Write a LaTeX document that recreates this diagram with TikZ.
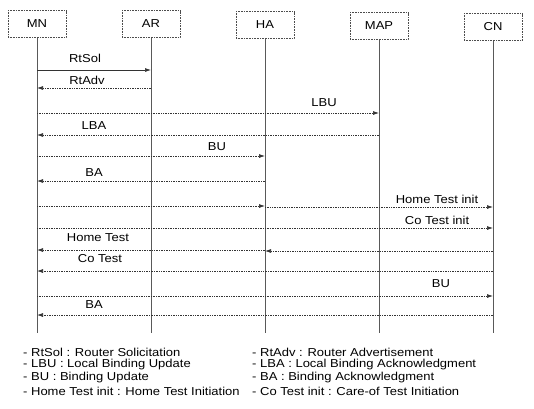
\documentclass[tikz,border=0pt]{standalone}
\usepackage{fontspec}
\setmainfont[FakeStretch=1.13]{Liberation Sans}
\usetikzlibrary{arrows.meta,positioning,calc}
\tikzset{
  sqhead/.style={rectangle, draw=black!70, densely dotted, line width=0.6pt,
                 minimum width=58pt, minimum height=27pt, inner sep=0pt,
                 font=\fontsize{11.5}{13}\selectfont},
  sqlife/.style={draw=black!65, line width=0.6pt},
  sqmsg/.style={-{Latex[length=6pt,width=4pt]}, draw=black!80, densely dotted, line width=0.7pt},
  sqmsgs/.style={sqmsg, solid},
  sqlbl/.style={font=\fontsize{11.5}{13}\selectfont, inner sep=0pt},
  sqleg/.style={font=\fontsize{11.5}{13}\selectfont, anchor=west, inner sep=0pt}
}

\begin{document}
\begin{tikzpicture}[x=1pt, y=-1pt]

\fill[white] (0,0) rectangle (534,408);
\useasboundingbox (0,0) rectangle (534,408);

\node[sqhead] (mn)  at (37,24)  {MN};
\node[sqhead] (ar)  at (151,24) {AR};
\node[sqhead] (ha)  at (265,25) {HA};
\node[sqhead] (map) at (379,26) {MAP};
\node[sqhead] (cn)  at (493,27) {CN};

\draw[sqlife] (mn.south)  -- (mn |- 0,333);
\draw[sqlife] (ar.south)  -- (ar |- 0,333);
\draw[sqlife] (ha.south)  -- (ha |- 0,333);
\draw[sqlife] (map.south) -- (map |- 0,333);
\draw[sqlife] (cn.south)  -- (cn |- 0,333);

\draw[sqmsgs] (mn |- 0,70) -- (ar |- 0,70);
\node[sqlbl] (tRtSol) at (85,58) {RtSol};
\draw[sqmsg] (ar |- 0,88) -- (mn |- 0,88);
\node[sqlbl] (tRtAdv) at (87,80) {RtAdv};
\draw[sqmsg] (mn |- 0,113) -- (map |- 0,113);
\node[sqlbl] (tLBU) at (324,103) {LBU};
\draw[sqmsg] (map |- 0,135) -- (mn |- 0,135);
\node[sqlbl] (tLBA) at (94,126) {LBA};
\draw[sqmsg] (mn |- 0,156) -- (ha |- 0,156);
\node[sqlbl] (tBU) at (217,147) {BU};
\draw[sqmsg] (ha |- 0,181) -- (mn |- 0,181);
\node[sqlbl] (tBA) at (94,173) {BA};
\draw[sqmsg] (mn |- 0,206) -- (ha |- 0,206);
\draw[sqmsg] (ha |- 0,207) -- (cn |- 0,207);
\node[sqlbl] (tHoTI) at (437,199) {Home Test init};
\draw[sqmsg] (mn |- 0,228) -- (cn |- 0,228);
\node[sqlbl] (tCoTI) at (437,220) {Co Test init};
\draw[sqmsg] (cn |- 0,251) -- (ha |- 0,251);
\draw[sqmsg] (ha |- 0,250) -- (mn |- 0,250);
\node[sqlbl] (tHoT) at (98,238) {Home Test};
\draw[sqmsg] (cn |- 0,271) -- (mn |- 0,271);
\node[sqlbl] (tCoT) at (100,259) {Co Test};
\draw[sqmsg] (mn |- 0,296) -- (cn |- 0,296);
\node[sqlbl] (tBU2) at (441,284) {BU};
\draw[sqmsg] (cn |- 0,315) -- (mn |- 0,315);
\node[sqlbl] (tBA2) at (94,305) {BA};

\node[sqleg] (lg1) at (23,352)  {- RtSol : Router Solicitation};
\node[sqleg] (lg2) at (23,365)  {- LBU : Local Binding Update};
\node[sqleg] (lg3) at (23,378)  {- BU : Binding Update};
\node[sqleg] (lg4) at (23,391)  {- Home Test init : Home Test Initiation};
\node[sqleg] (lg5) at (252,352) {- RtAdv : Router Advertisement};
\node[sqleg] (lg6) at (252,365) {- LBA : Local Binding Acknowledgment};
\node[sqleg] (lg7) at (252,378) {- BA : Binding Acknowledgment};
\node[sqleg] (lg8) at (252,391) {- Co Test init : Care-of Test Initiation};

\end{tikzpicture}
\end{document}
